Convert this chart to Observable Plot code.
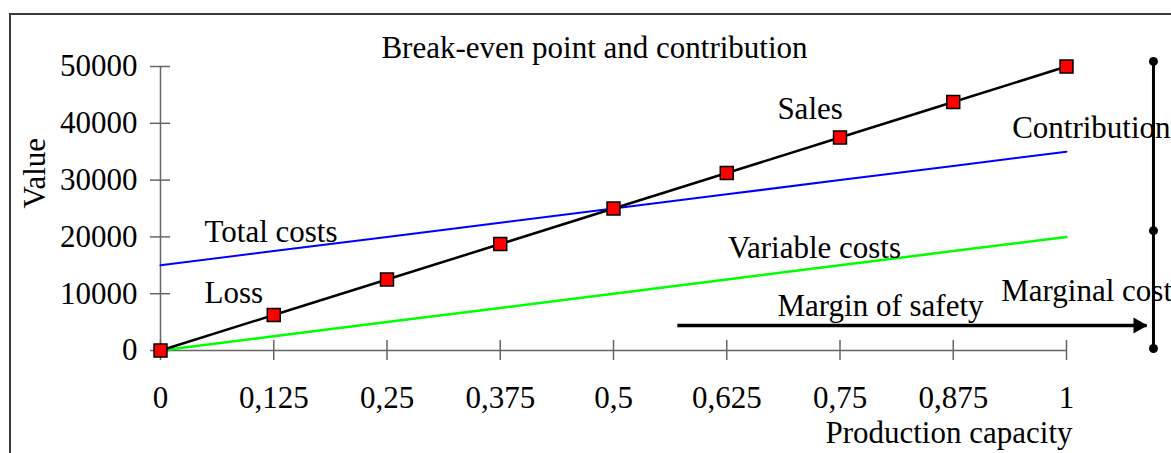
<!DOCTYPE html>
<html>
<head>
<meta charset="utf-8">
<script src="https://cdn.jsdelivr.net/npm/d3@7"></script>
<script src="https://cdn.jsdelivr.net/npm/@observablehq/plot@0.6"></script>
<style>
  html, body { margin: 0; padding: 0; background: #fff; overflow: hidden; }
  #wrap { position: relative; width: 1171px; height: 453px; overflow: hidden; }
  #frame { position: absolute; left: 9px; top: 13px; width: 2000px; height: 1000px;
           border-left: 2px solid #3a3a3a; border-top: 2px solid #3a3a3a; }
  #chart { position: absolute; left: 0; top: 0; }
</style>
</head>
<body>
<div id="wrap"><div id="frame"></div><div id="chart"></div></div>
<script>
// Production capacity (x) and series values
const capacity = [0, 0.125, 0.25, 0.375, 0.5, 0.625, 0.75, 0.875, 1];
const sales = [0, 6250, 12500, 18750, 25000, 31250, 37500, 43750, 50000];
const totalCosts = [15000, 17500, 20000, 22500, 25000, 27500, 30000, 32500, 35000];
const variableCosts = [0, 2500, 5000, 7500, 10000, 12500, 15000, 17500, 20000];
const yTicks = [0, 10000, 20000, 30000, 40000, 50000];

// Annotations (data coordinates)
const noteText = ["Sales", "Contribution", "Total costs", "Loss", "Variable costs", "Margin of safety", "Marginal cost"];
const noteX = [0.717, 0.940, 0.0486, 0.0486, 0.6264, 0.681, 0.928];
const noteY = [42500, 39100, 20800, 10100, 18000, 7800, 10400];
const noteAnchor = ["middle", "start", "start", "start", "start", "start", "start"];

// Margin-of-safety arrow and marginal-cost bracket
const safetyX1 = 0.571, safetyX2 = 1.089, safetyY = 4400;
const bracketX = 1.096;
const bracketY = [50900, 21100, 350];

const fmtX = d => String(d).replace(".", ",");
const idx = capacity.map((_, i) => i);
const notes = noteText.map((t, i) => ({t, x: noteX[i], y: noteY[i], a: noteAnchor[i]}));

const chart = Plot.plot({
  width: 1171, height: 453,
  marginLeft: 160, marginRight: 105, marginTop: 66, marginBottom: 103,
  x: {domain: [0, 1], label: null},
  y: {domain: [0, 50000], label: null},
  style: {fontFamily: "'Liberation Serif', 'Times New Roman', serif", fontSize: "31px", color: "#000", background: "transparent", overflow: "visible"},
  marks: [
    Plot.ruleY([0], {stroke: "#666", strokeWidth: 1.5}),
    Plot.ruleX([0], {stroke: "#666", strokeWidth: 1.5}),
    Plot.axisX(capacity, {tickSize: 10, tickPadding: 25, tickFormat: fmtX, label: null, stroke: "#666", strokeWidth: 1.5, fill: "#000"}),
    Plot.ruleX(capacity, {x: d => d, insetTop: 274, stroke: "#666", strokeWidth: 1.5}),
    Plot.axisY(yTicks, {tickSize: 10, tickPadding: 13, tickFormat: d => String(d), label: null, stroke: "#666", strokeWidth: 1.5, fill: "#000"}),
    Plot.ruleY(yTicks, {y: d => d, insetRight: 896, stroke: "#666", strokeWidth: 1.5}),
    Plot.line(idx, {x: i => capacity[i], y: i => totalCosts[i], stroke: "#0000ff", strokeWidth: 2}),
    Plot.line(idx, {x: i => capacity[i], y: i => variableCosts[i], stroke: "#00ff00", strokeWidth: 2.5}),
    Plot.line(idx, {x: i => capacity[i], y: i => sales[i], stroke: "#000", strokeWidth: 2.5}),
    Plot.dot(idx, {x: i => capacity[i], y: i => sales[i], symbol: "square", r: 7.3, fill: "#ff0000", stroke: "#000", strokeWidth: 1.5}),
    // margin of safety arrow
    Plot.ruleY([safetyY], {x1: safetyX1, x2: safetyX2, stroke: "#000", strokeWidth: 3.5}),
    Plot.dot([safetyY], {x: () => safetyX2, y: d => d, symbol: "triangle", rotate: 90, r: 6, fill: "#000", stroke: "none", dx: -9}),
    // marginal cost bracket
    Plot.ruleX([bracketX], {y1: bracketY[2], y2: bracketY[0], stroke: "#000", strokeWidth: 3}),
    Plot.dot(bracketY, {x: () => bracketX, y: d => d, r: 4.5, fill: "#000", stroke: "none"}),
    // annotations
    Plot.text(notes.filter(d => d.a === "start"), {x: "x", y: "y", text: "t", textAnchor: "start", fill: "#000"}),
    Plot.text(notes.filter(d => d.a === "middle"), {x: "x", y: "y", text: "t", fill: "#000"}),
    // title and axis labels
    Plot.text(["Break-even point and contribution"], {frameAnchor: "top", lineAnchor: "middle", dx: -19, dy: -18, fill: "#000"}),
    Plot.text(["Value"], {frameAnchor: "left", lineAnchor: "middle", rotate: -90, dx: -125, fill: "#000"}),
    Plot.text(["Production capacity"], {frameAnchor: "bottom-right", lineAnchor: "middle", textAnchor: "end", dx: 6, dy: 83, fill: "#000"})
  ]
});
document.getElementById("chart").appendChild(chart);
</script>
</body>
</html>
